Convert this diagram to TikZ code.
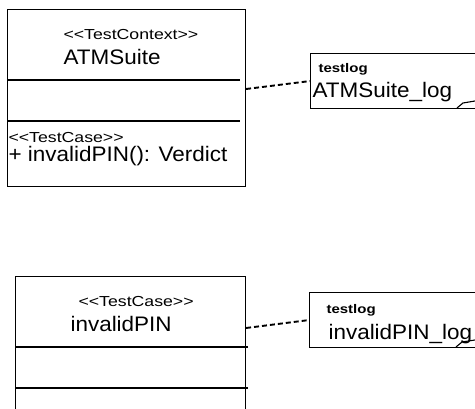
\documentclass[tikz,border=0pt]{standalone}
\usepackage{fontspec}
\setmainfont{Liberation Sans}
\newcommand{\bigtxt}[1]{\fontsize{21}{25}\selectfont\scalebox{1.07}[1]{#1}}
\newcommand{\smtxt}[1]{\fontsize{14.5}{17}\selectfont\scalebox{1.22}[1]{#1}}
\newcommand{\tagtxt}[1]{\fontsize{12.5}{15}\selectfont\bfseries\scalebox{1.2}[1]{#1}}
\newcommand{\stereo}[1]{<\kern0pt<#1>\kern0pt>}
\begin{document}
\begin{tikzpicture}[x=1pt,y=-1pt,line width=1.1pt,
  box/.style={draw,rectangle,inner sep=0pt,anchor=north west},
  txt/.style={inner sep=0pt,anchor=base west},
  link/.style={draw,line width=1.9pt,dash pattern=on 5pt off 3pt}]
\useasboundingbox (0,0) rectangle (475,409);
\clip (0,0) rectangle (475,409);
% top class
\node[box,minimum width=238pt,minimum height=177pt] (atm) at (7,9) {};
\draw ([yshift=-71pt]atm.north west) -- ([xshift=-6pt,yshift=-71pt]atm.north east);
\draw ([yshift=-112pt]atm.north west) -- ([xshift=-6pt,yshift=-112pt]atm.north east);
\node[txt] (st1) at (63,40) {\smtxt{\stereo{TestContext}}};
\node[txt] (n1) at (63,65) {\bigtxt{ATMSuite}};
\node[txt] (st2) at (8,143) {\smtxt{\stereo{TestCase}}};
\node[txt] (op1) at (8,162) {\bigtxt{+ invalidPIN(): Verdict}};
% top note
\node[box,minimum width=190pt,minimum height=55pt] (log1) at (310,53) {};
\node[txt] (tg1) at (318,73) {\tagtxt{testlog}};
\node[txt] (ln1) at (312,98) {\bigtxt{ATMSuite\_log}};
\draw (457,108) -- (463,103) -- (475,101);
\draw[link] ([yshift=-80pt]atm.north east) -- (log1.west);
% bottom class
\node[box,minimum width=230pt,minimum height=160pt] (pin) at (15,276) {};
\draw ([yshift=-71pt]pin.north west) -- ([xshift=2pt,yshift=-71pt]pin.north east);
\draw ([yshift=-112pt]pin.north west) -- ([xshift=2pt,yshift=-112pt]pin.north east);
\node[txt] (st3) at (78,307) {\smtxt{\stereo{TestCase}}};
\node[txt] (n2) at (70,332) {\bigtxt{invalidPIN}};
% bottom note
\node[box,minimum width=190pt,minimum height=55pt] (log2) at (309,292) {};
\node[txt] (tg2) at (326,314) {\tagtxt{testlog}};
\node[txt] (ln2) at (328,340) {\bigtxt{invalidPIN\_log}};
\draw (456,347) -- (462,342) -- (475,340);
\draw[link] ([yshift=-52pt]pin.north east) -- (log2.west);
\end{tikzpicture}
\end{document}
